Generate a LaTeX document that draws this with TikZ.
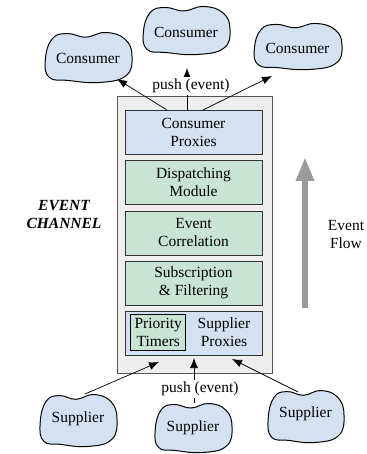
\documentclass[tikz,border=0pt]{standalone}
\usepackage{fontspec}
\setmainfont{Liberation Serif}
\newfontfamily\diagfont{Liberation Serif}
\usetikzlibrary{arrows.meta}

\definecolor{proxyblue}{HTML}{D3E1F1}
\definecolor{modgreen}{HTML}{C9E4D4}
\definecolor{chanfill}{HTML}{EEEEEE}
\definecolor{chanline}{HTML}{555555}
\definecolor{boxline}{HTML}{333333}
\definecolor{flowgrey}{HTML}{9B9B9B}

\tikzset{
  txt/.style={font=\diagfont\fontsize{15.5}{18}\selectfont, align=center, inner sep=1pt},
  layer/.style={draw=boxline, line width=0.9pt, minimum width=137, minimum height=44, txt},
  bluelayer/.style={layer, fill=proxyblue},
  greenlayer/.style={layer, fill=modgreen},
  blobline/.style={draw=black, fill=proxyblue, line width=1pt},
  push/.style={draw=black, line width=0.7pt, -{Latex[length=10,width=8]}},
  pushlabel/.style={txt, fill=white, inner sep=1.5pt},
}

% irregular cloud outline, centred at #1,#2 with half sizes #3,#4
\newcommand\blobat[4]{%
  \begin{scope}[shift={(#1,#2)}, xscale=#3, yscale=#4]
    \path[blobline] plot[smooth cycle, tension=0.75] coordinates {
      (-0.82,-0.72) (-0.48,-0.94) (-0.05,-0.8) (0.4,-0.98) (0.84,-0.72)
      (1.0,-0.05) (0.86,0.72) (0.25,0.98) (-0.45,0.9) (-0.88,0.78) (-0.97,0.1)};
  \end{scope}}

\begin{document}
\begin{tikzpicture}[x=1pt, y=-1pt]
\useasboundingbox (0,0) rectangle (366,454);

% event channel frame and its layers
\node[draw=chanline, fill=chanfill, line width=1pt, minimum width=155, minimum height=276, inner sep=0] (chan) at (194.5,235) {};
\node[bluelayer] (cp) at (193.5,132) {Consumer\\Proxies};
\node[greenlayer] (dm) at (193.5,182) {Dispatching\\Module};
\node[greenlayer] (ec) at (193.5,233) {Event\\Correlation};
\node[greenlayer] (sf) at (193.5,283) {Subscription\\\& Filtering};
\node[bluelayer] (sp) at (193.5,333) {};
\node[draw=black, line width=0.9pt, fill=modgreen, minimum width=55, minimum height=36, txt] (pt) at (158.3,332.5) {Priority\\Timers};
\node[txt] (spt) at (224,332) {Supplier\\Proxies};

\node[txt, font=\diagfont\fontsize{15.5}{18}\selectfont\bfseries\itshape] (chlabel) at (64,215) {EVENT\\CHANNEL};

% event flow indicator
\coordinate (flowbot) at (305,308);
\coordinate (flowtop) at (305,157);
\draw[flowgrey, line width=6, -{Triangle[length=24,width=17]}] (flowbot) -- (flowtop);
\node[txt] (flowlabel) at (346,234) {Event\\Flow};

% consumers
\blobat{88}{57.5}{44}{25.5}
\node[txt] (c1) at (88,58) {Consumer};
\blobat{186}{30.5}{44}{24.5}
\node[txt] (c2) at (186,32) {Consumer};
\blobat{297.5}{46.5}{44.5}{23.5}
\node[txt] (c3) at (297.5,48) {Consumer};

% suppliers
\blobat{78}{420.5}{39}{26.5}
\node[txt] (s1) at (78,419) {Supplier};
\blobat{193}{428}{39}{25}
\node[txt] (s2) at (193,428) {Supplier};
\blobat{305.5}{416.5}{38.5}{26.5}
\node[txt] (s3) at (305.5,414) {Supplier};

% connector end points
\coordinate (cpa) at (167,110);
\coordinate (cpb) at (187,110);
\coordinate (cpc) at (203,110);
\coordinate (c1e) at (117,79);
\coordinate (c2e) at (187,68);
\coordinate (c3e) at (272,76);
\coordinate (s1e) at (85,394);
\coordinate (s2e) at (194,403);
\coordinate (s3e) at (298,392);
\coordinate (spa) at (159,362);
\coordinate (spb) at (194,358);
\coordinate (spc) at (232,359);

% push connectors
\draw[push] (cpa) -- (c1e);
\draw[push] (cpb) -- (c2e);
\draw[push] (cpc) -- (c3e);
\node[pushlabel] (toplabel) at (191,86) {push (event)};

\draw[push] (s1e) -- (spa);
\draw[push] (s2e) -- (spb);
\draw[push] (s3e) -- (spc);
\node[pushlabel] (botlabel) at (200,389) {push (event)};
\end{tikzpicture}
\end{document}
